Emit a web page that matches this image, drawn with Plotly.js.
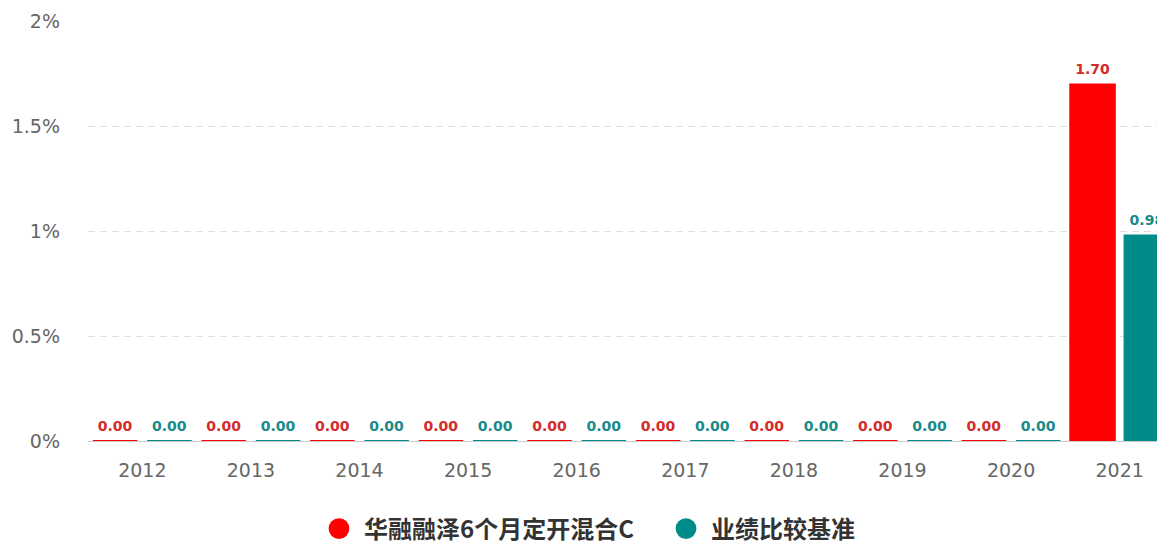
<!DOCTYPE html>
<html>
<head>
<meta charset="utf-8">
<script src="https://cdn.plot.ly/plotly-3.0.1.min.js"></script>
<style>
html,body{margin:0;padding:0;overflow:hidden;background:#fff;width:1157px;height:542px;}
#chart{width:1174px;height:560px;}
</style>
</head>
<body>
<div id="chart"></div>
<script>
const years = ['2012','2013','2014','2015','2016','2017','2018','2019','2020','2021'];
const fundName = '华融融泽6个月定开混合C';
const benchName = '业绩比较基准';
const fundValues = [0, 0, 0, 0, 0, 0, 0, 0, 0, 1.70];
const benchValues = [0, 0, 0, 0, 0, 0, 0, 0, 0, 0.98];
const yTicks = [0, 0.5, 1, 1.5, 2];

const red = '#ff0000';
const teal = '#008b8b';
const label = v => '<span style="font-size:14px">' + v.toFixed(2) + '</span><br> ';

const traces = [
  {
    type: 'bar', x: years, y: fundValues, name: fundName, showlegend: false,
    marker: {color: red, line: {color: red, width: 2}},
    text: fundValues.map(label), textposition: 'outside', cliponaxis: false, constraintext: 'none',
    textfont: {family: 'DejaVu Sans', size: 5, color: '#d42b2b', weight: 'bold'},
    hoverinfo: 'skip'
  },
  {
    type: 'bar', x: years, y: benchValues, name: benchName, showlegend: false,
    marker: {color: teal, line: {color: teal, width: 2}},
    text: benchValues.map(label), textposition: 'outside', cliponaxis: false, constraintext: 'none',
    textfont: {family: 'DejaVu Sans', size: 5, color: '#1a8a8a', weight: 'bold'},
    hoverinfo: 'skip'
  },
  {type: 'scatter', mode: 'markers', x: [null], y: [null], name: fundName, legendwidth: 292,
   marker: {color: red, size: 16, symbol: 'circle'}},
  {type: 'scatter', mode: 'markers', x: [null], y: [null], name: benchName,
   marker: {color: teal, size: 16, symbol: 'circle'}}
];

const H = 560;
const layout = {
  width: 1174, height: H,
  margin: {l: 88, r: 0, t: 21, b: H - 441},
  paper_bgcolor: '#fff', plot_bgcolor: '#fff',
  barmode: 'group', bargap: 0.0, bargroupgap: 0.18,
  showlegend: true,
  legend: {
    orientation: 'h', xref: 'container', yref: 'container',
    x: 0.5, xanchor: 'center', y: (H - 529) / H, yanchor: 'middle',
    font: {family: 'Noto Sans CJK SC', size: 24, color: '#333', weight: 'bold'},
    itemsizing: 'trace', itemwidth: 40
  },
  xaxis: {
    type: 'category', showgrid: false, zeroline: false,
    showline: true, linecolor: '#cccccc', linewidth: 1,
    ticks: '', ticklabelstandoff: 12,
    tickfont: {family: 'DejaVu Sans', size: 19, color: '#666'}
  },
  yaxis: {
    range: [0, 2.003], tickvals: yTicks, ticktext: yTicks.map(v => v + '%'),
    showgrid: true, gridcolor: '#e0e0e0', griddash: '7px,5px', gridwidth: 1,
    zeroline: false, showline: false, ticks: '', ticklabelstandoff: 27,
    tickfont: {family: 'DejaVu Sans', size: 19, color: '#666'}
  },
  font: {family: 'DejaVu Sans'}
};

Plotly.newPlot('chart', traces, layout, {displayModeBar: false, staticPlot: true}).then(() => {
  document.querySelectorAll('#chart .legendpoints path.scatterpts').forEach(p => {
    p.setAttribute('transform', (p.getAttribute('transform') || '') + ' scale(1.3)');
  });
});
</script>
</body>
</html>
